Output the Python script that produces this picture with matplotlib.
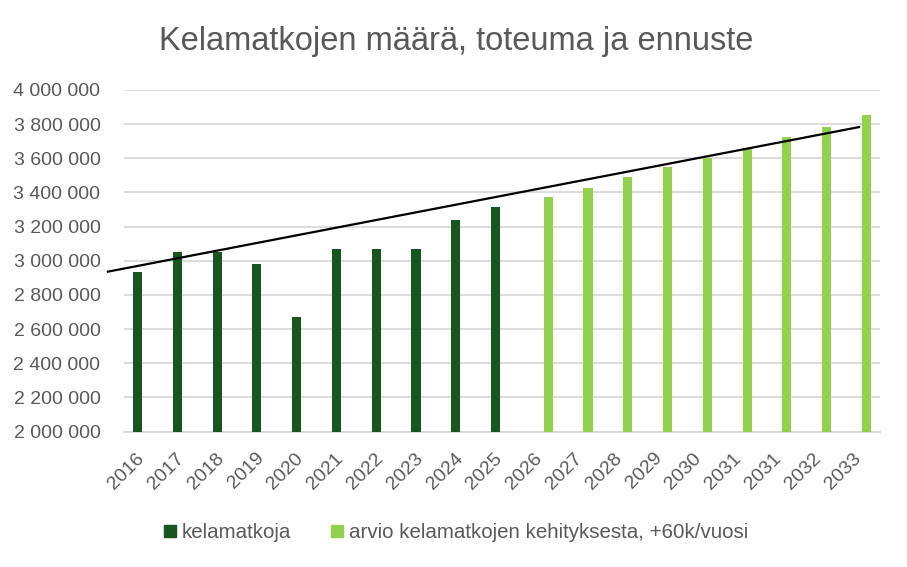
import matplotlib
matplotlib.use("Agg")
import matplotlib.pyplot as plt
from matplotlib.lines import Line2D
from matplotlib.transforms import ScaledTranslation
import numpy as np

# ---- data ----
categories = ['2016', '2017', '2018', '2019', '2020', '2021', '2022', '2023', '2024', '2025',
              '2026', '2027', '2028', '2029', '2030', '2031', '2031', '2032', '2033']
actual = [2935000, 3050000, 3050000, 2980000, 2670000, 3070000, 3070000, 3070000, 3236000, 3314000]
forecast = [3371000, 3425000, 3490000, 3548000, 3603000, 3658000, 3725000, 3781000, 3851000]
trend_start_value = 2935000
trend_end_value = 3784000
y_ticks = [2000000, 2200000, 2400000, 2600000, 2800000, 3000000,
           3200000, 3400000, 3600000, 3800000, 4000000]

title = "Kelamatkojen määrä, toteuma ja ennuste"
label_actual = "kelamatkoja"
label_forecast = "arvio kelamatkojen kehityksesta, +60k/vuosi"

# ---- style ----
dark = '#18561F'
light = '#92D050'
text_col = '#595959'
grid_col = '#D9D9D9'
plt.rcParams['font.family'] = ['Liberation Sans', 'DejaVu Sans']

fig = plt.figure(figsize=(9.07, 5.67), dpi=100)
ax = fig.add_axes([124/907, 1-431.5/567, (880-124)/907, (431.5-90)/567])

n = len(categories)
x = np.arange(n)
bw = 0.23
off = 0.16
x_act = x[:len(actual)] - off
x_fc = x[len(actual):] + off
ax.bar(x_act, actual, width=bw, color=dark, zorder=3)
ax.bar(x_fc, forecast, width=bw, color=light, zorder=3)

# linear trend line
ax.plot([-0.93, 18.0], [trend_start_value, trend_end_value], color='black', lw=1.6,
        zorder=4, clip_on=False, solid_capstyle='butt')

ax.set_xlim(-0.5, n - 0.5)
ax.set_ylim(2000000, 4000000)
ax.set_yticks(y_ticks)
ax.set_yticklabels([f"{v:,.0f}".replace(',', ' ') for v in y_ticks])
ax.set_xticks(x)
ax.set_xticklabels(categories, rotation=45, ha='right', va='top', rotation_mode='default')
ax.tick_params(axis='both', length=0, labelsize=14, colors=text_col)
ax.tick_params(axis='y', pad=17)
ax.tick_params(axis='x', pad=13)
shift = ScaledTranslation(4/100, 0, fig.dpi_scale_trans)
for lab in ax.get_xticklabels():
    lab.set_transform(lab.get_transform() + shift)

ax.grid(axis='y', color=grid_col, lw=1.3, zorder=0)
ax.set_axisbelow(True)
for s in ['top', 'right', 'left']:
    ax.spines[s].set_visible(False)
ax.spines['bottom'].set_color(grid_col)
ax.spines['bottom'].set_linewidth(1.3)

fig.suptitle(title, x=0.503, y=0.927, va='center', fontsize=23.5, color=text_col)

handles = [Line2D([], [], marker='s', ls='none', color=dark, markersize=8),
           Line2D([], [], marker='s', ls='none', color=light, markersize=8)]
fig.legend(handles, [label_actual, label_forecast], loc='center', bbox_to_anchor=(0.503, 0.06),
           ncol=2, frameon=False, fontsize=14.8, labelcolor=text_col, handlelength=0.55,
           handletextpad=0.3, columnspacing=2.0)

fig.savefig('out.png', dpi=100)
